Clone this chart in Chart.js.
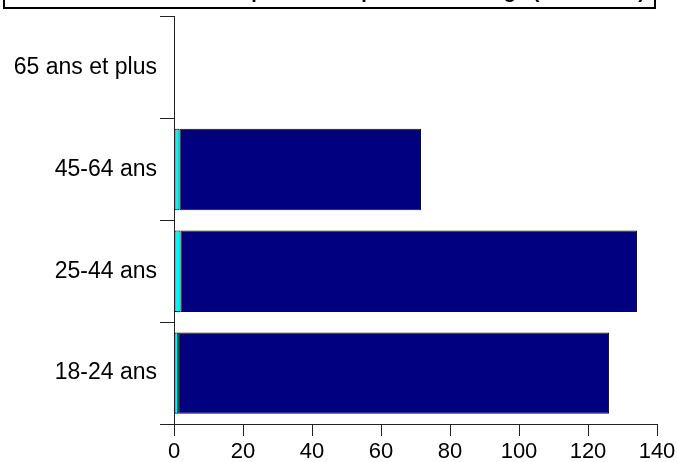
<!DOCTYPE html>
<html>
<head>
<meta charset="utf-8">
<script src="https://cdn.jsdelivr.net/npm/chart.js@4/dist/chart.umd.min.js"></script>
<style>
html,body{margin:0;padding:0;background:#fff;}
canvas{display:block;}
</style>
</head>
<body>
<canvas id="c" width="677" height="462"></canvas>
<script>
const titleText = "Nombre de cas par sexe et par tranche d'âge (en milliers)";
const categories = ["65 ans et plus", "45-64 ans", "25-44 ans", "18-24 ans"];
const seriesCyan = [0, 1.6, 1.9, 1.2];
const seriesNavy = [0.3, 70.0, 132.3, 124.9];
const xMin = 0, xMax = 140, xStep = 20;

const titleBox = {
  id: 'titleBox',
  afterDraw(chart) {
    const ctx = chart.ctx;
    ctx.save();
    ctx.strokeStyle = '#000';
    ctx.lineWidth = 2;
    ctx.strokeRect(4, -30, 651, 38);
    ctx.fillStyle = '#000';
    ctx.font = 'bold 20px "Liberation Sans", Arial, sans-serif';
    ctx.textAlign = 'right';
    ctx.textBaseline = 'alphabetic';
    ctx.fillText(titleText, 645, -2);
    ctx.restore();
  }
};

const labelFont = { family: '"Liberation Sans", Arial, sans-serif', size: 23 };
const tickFont = { family: '"Liberation Sans", Arial, sans-serif', size: 22 };

new Chart(document.getElementById('c'), {
  type: 'bar',
  data: {
    labels: categories,
    datasets: [
      { label: 'A', data: seriesCyan, backgroundColor: '#00F5F5', borderColor: '#111', borderWidth: 1, borderSkipped: false, categoryPercentage: 0.8, barPercentage: 1.0 },
      { label: 'B', data: seriesNavy, backgroundColor: '#000080', borderColor: '#111', borderWidth: 1, borderSkipped: false, categoryPercentage: 0.8, barPercentage: 1.0 }
    ]
  },
  options: {
    indexAxis: 'y',
    responsive: false,
    devicePixelRatio: 1,
    animation: false,
    layout: { padding: { top: 15, right: 0, left: 0, bottom: 0 } },
    plugins: { legend: { display: false }, tooltip: { enabled: false }, title: { display: false } },
    scales: {
      x: {
        stacked: true,
        min: xMin, max: xMax,
        ticks: { stepSize: xStep, color: '#000', font: tickFont, padding: 3, maxRotation: 0 },
        grid: { drawOnChartArea: false, drawTicks: true, tickLength: 12, color: '#222', lineWidth: 1 },
        border: { display: true, color: '#222', width: 1 },
        afterFit(s) { s.height = 38; s.paddingRight = 20; }
      },
      y: {
        stacked: true,
        offset: true,
        ticks: { color: '#000', font: labelFont, padding: 3 },
        grid: { offset: true, drawOnChartArea: false, drawTicks: true, tickLength: 14, color: '#222', lineWidth: 1 },
        border: { display: true, color: '#222', width: 1 },
        afterFit(s) { s.width = 174; }
      }
    }
  },
  plugins: [titleBox]
});
</script>
</body>
</html>
